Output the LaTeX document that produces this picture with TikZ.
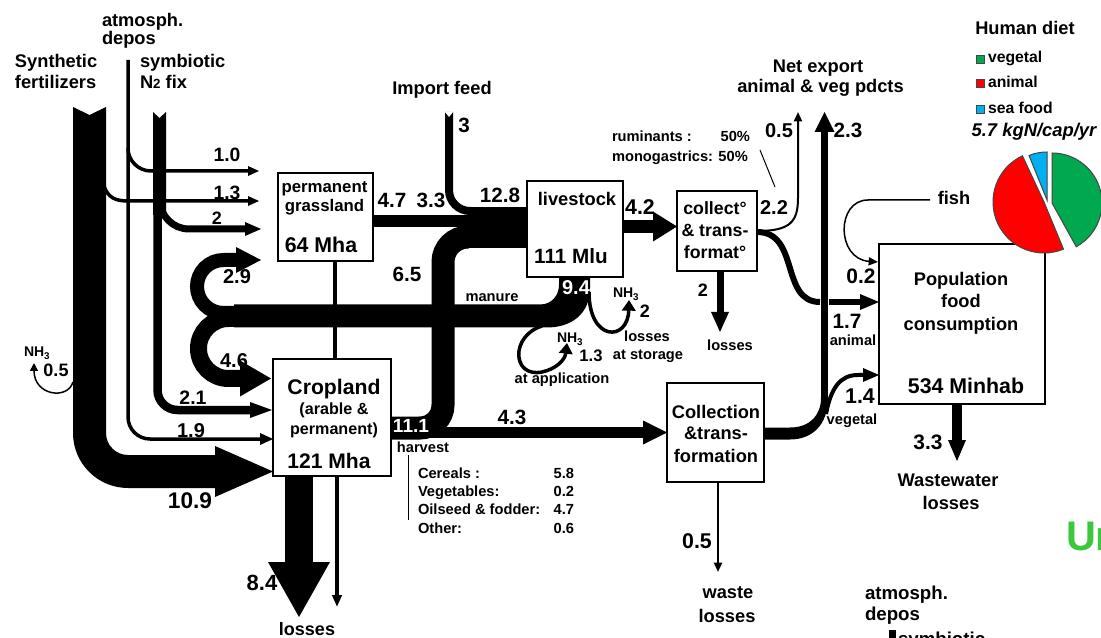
\documentclass[tikz,border=0pt]{standalone}
\usepackage{fontspec}
\setmainfont{Liberation Sans}
\usetikzlibrary{arrows.meta}
\newdimen\pxu
\pxu=0.75pt
\newcommand\fsz[1]{\fontsize{#1}{#1}\selectfont\bfseries}
\newcommand\hR[4]{\fill (#1,{#2-#4}) -- (#3,#2) -- (#1,{#2+#4}) -- cycle;}
\newcommand\hU[4]{\fill ({#1-#4},#2) -- (#1,#3) -- ({#1+#4},#2) -- cycle;}
\newcommand\nhthree{NH\textsubscript{3}}
\definecolor{vegc}{RGB}{0,168,80}
\definecolor{anic}{RGB}{255,0,0}
\definecolor{seac}{RGB}{0,176,240}
\definecolor{ugreen}{RGB}{60,200,60}
\definecolor{pieline}{RGB}{70,70,70}
\begin{document}
\begin{tikzpicture}[x=0.75pt,y=-0.75pt,
  every node/.style={inner sep=0pt,outer sep=0pt},
  txT/.style={anchor=base,font=\fsz{13.7}},
  txN/.style={anchor=base,font=\fsz{15.5}},
  txS/.style={anchor=base,font=\fsz{11}},
  box/.style={draw,line width=2\pxu,fill=white},
  fl/.style={draw,line width=#1\pxu,line cap=butt},
  tar/.style={draw,line width=#1\pxu,-{Triangle[length=7pt,width=6pt]}},
]
\useasboundingbox (0,0) rectangle (1101,638);
\clip (0,0) rectangle (1101,638);
\fill[white] (0,0) rectangle (1101,638);

% ---------- inputs on the left ----------
% synthetic fertilizers
\fill (73,107) -- (89.5,115) -- (106,107) -- (106,433)
  arc[start angle=180,end angle=90,radius=22] -- (215,455) -- (215,446)
  -- (273,471.5) -- (215,497) -- (215,488) -- (128,488)
  arc[start angle=90,end angle=180,radius=55] -- cycle;
\draw[line width=1.5\pxu,-{Triangle[length=6pt,width=6pt]}] (73,382) .. controls (68,400) and (34,396) .. (34,363);
% 1.3 from fertilizers to grassland
\draw[fl=3.5] (104,186) .. controls (108,198) and (116,201) .. (128,201) -- (249,201);
\hR{248}{201}{259}{5}
% atmospheric deposition
\draw[fl=3.5] (128,60) -- (128,417) arc[start angle=180,end angle=90,radius=22] -- (261,439);
\hR{260}{439}{273}{6}
\draw[fl=3.5] (128,148) arc[start angle=180,end angle=90,radius=23] -- (249,171);
\hR{248}{171}{259}{5}
% symbiotic fixation
\fill (153,112) -- (159.5,118) -- (166,112) -- (166,215) -- (153,215) -- cycle;
\draw[fl=8.5] (157.5,214) -- (157.5,390) arc[start angle=180,end angle=90,radius=20] -- (251,410);
\hR{250}{410}{272}{8}
\draw[fl=7] (160,200) arc[start angle=180,end angle=90,radius=29] -- (246,229);
\hR{245}{229}{261}{7}

% ---------- feed to livestock ----------
\draw[fl=8] (449,112) -- (449,190) arc[start angle=180,end angle=90,radius=21] -- (471,211);
\fill[white] (444.5,111.5) -- (449,117) -- (453.5,111.5) -- cycle;
\draw[fl=12] (373,221) -- (468,221);
\fill (467,207) rectangle (527,248);
\draw[fl=23] (391,428) -- (420,428) arc[start angle=90,end angle=0,radius=23]
  -- (443,262) arc[start angle=180,end angle=270,radius=25] -- (469,237);
% harvest 4.3
\draw[fl=11] (391,432.5) -- (644,432.5);
\hR{643}{432.5}{667}{12}

% ---------- manure ----------
\fill (559,276) -- (590,276) -- (590,288) .. controls (590,315) and (570,327.5) .. (547,327.5)
  -- (234,327.5) -- (234,304.5) -- (540,304.5) .. controls (552,304.5) and (559,295) .. (559,285) -- cycle;
\draw[fl=14] (240,313) -- (223.5,313) arc[start angle=90,end angle=270,radius=26.5] -- (237,260);
\hR{236}{260}{261}{13}
\draw[fl=17] (240,318.5) -- (228.5,318.5) arc[start angle=270,end angle=90,radius=30] -- (241,378.5);
\hR{240}{378.5}{271}{18}
\draw[line width=3.5\pxu,-{Triangle[length=8pt,width=10pt]}] (589,292) .. controls (589,342) and (628,342) .. (629,300);
\draw[line width=3.5\pxu,-{Triangle[length=8pt,width=10pt]}] (542,326) .. controls (510,336) and (512,378) .. (542,372) .. controls (556,369) and (565,360) .. (567,343);

% ---------- animal products ----------
\draw[fl=13] (623,226.5) -- (654,226.5);
\hR{653}{226.5}{677}{15}
\draw[fl=7] (720,271) -- (720,313);
\hU{720}{312}{332}{9}
\draw[tar=2] (757,231) .. controls (790,231) and (798,222) .. (798,198) -- (798,112);
\draw[fl=7] (824.5,400) -- (824.5,131);
\hU{824.5}{132}{112}{10}
\draw[fl=6] (757,232) .. controls (800,232) and (780,302) .. (820,302);
\draw[fl=6] (829,302) -- (861,302);
\hR{860}{302}{879}{8}

% ---------- vegetal products ----------
\fill (764,427.5) -- (790,427.5) .. controls (810,427.5) and (821,415) .. (821,398)
  -- (828,398) .. controls (828,425) and (812,439.5) .. (790,439.5) -- (764,439.5) -- cycle;
\draw[fl=4] (826,414) .. controls (831,388) and (840,375) .. (858,375) -- (864,375);
\hR{863}{375}{879}{7}
\draw[line width=1.5\pxu,-{Triangle[length=7pt,width=6pt]}] (930,200) -- (868,200) .. controls (836,200) and (836,259) .. (878,262);
\draw[fl=10] (957,404) -- (957,441);
\hU{957}{440}{461}{9}
\draw[tar=2] (718,482) -- (718,572);

% ---------- cropland losses ----------
\draw[fl=4.5] (335,261) -- (335,359);
\draw[line width=3.5\pxu,-{Triangle[length=9pt,width=7pt]}] (337,476) -- (337,607);
\draw[fl=28] (299,476) -- (299,563);
\hU{299}{562}{617}{31}
\draw[line width=1\pxu] (408,455) -- (408,520);
\draw[line width=1\pxu] (760,150) -- (775,187);
\fill (889,630) rectangle (896,640);

% ---------- boxes ----------
\node[box,minimum width=95\pxu,minimum height=88\pxu] (grass) at (325.5,217) {};
\node[box,minimum width=96\pxu,minimum height=96\pxu] (live) at (575,229) {};
\node[box,minimum width=80\pxu,minimum height=80\pxu] (coll) at (717,231) {};
\node[box,minimum width=118\pxu,minimum height=117\pxu] (crop) at (332,417.5) {};
\node[box,minimum width=97\pxu,minimum height=99\pxu] (ctr) at (715.5,432.5) {};
\node[box,minimum width=166\pxu,minimum height=160\pxu] (pop) at (962,324) {};

% box texts
\node[txT,font=\fsz{12.6}] (g1) at (324.5,193) {permanent};
\node[txT,font=\fsz{12.6}] (g2) at (324.5,212) {grassland};
\node[txN,font=\fsz{16}] (g3) at (321,253) {64 Mha};
\node[txT] (v1) at (577,206) {livestock};
\node[txN] (v2) at (571,264) {111 Mlu};
\node[txT,font=\fsz{13.3}] (c1) at (715,215) {collect°};
\node[txT,font=\fsz{13.3}] (c2) at (715,237) {\& trans-};
\node[txT,font=\fsz{13.3}] (c3) at (715,259) {format°};
\node[txN,font=\fsz{15.9}] (k1) at (334,394) {Cropland};
\node[txT,font=\fsz{12.1}] (k2) at (334,414) {(arable \&};
\node[txT,font=\fsz{12.1}] (k3) at (334,434) {permanent)};
\node[txN,font=\fsz{15.8}] (k4) at (329,468) {121 Mha};
\node[txT] (t1) at (716,418) {Collection};
\node[txT] (t2) at (716,440) {\&trans-};
\node[txT] (t3) at (716,462) {formation};
\node[txT] (p1) at (961,286) {Population};
\node[txT] (p2) at (961,308) {food};
\node[txT] (p3) at (961,330) {consumption};
\node[txN,font=\fsz{16}] (p4) at (966,393) {534 Minhab};

% ---------- labels ----------
\node[txT,anchor=base west] (a1) at (102,27) {atmosph.};
\node[txT,anchor=base west] (a2) at (102,45) {depos};
\node[txT,anchor=base west] (s1) at (15,68) {Synthetic};
\node[txT,anchor=base west] (s2) at (15,89) {fertilizers};
\node[txT,anchor=base west] (b1) at (140,68) {symbiotic};
\node[txT,anchor=base west] (b2) at (140,89) {N{\fsz{10}2} fix};
\node[txT] (i1) at (442,95) {Import feed};
\node[txN] (n3) at (464,133) {3};
\node[txN] (n47) at (392,208) {4.7};
\node[txN] (n33) at (431,208) {3.3};
\node[txN] (n128) at (500,203) {12.8};
\node[txN,font=\fsz{14.5}] (n10) at (227,162) {1.0};
\node[txN,font=\fsz{14.5}] (n13) at (227,200) {1.3};
\node[txN,font=\fsz{13.5}] (n2) at (217,225) {2};
\node[txN,font=\fsz{15}] (n29) at (237,284) {2.9};
\node[txN,font=\fsz{15}] (n46) at (234,368) {4.6};
\node[txN,font=\fsz{14.6}] (n21) at (193,405) {2.1};
\node[txN,font=\fsz{15}] (n19) at (191,437) {1.9};
\node[txS,font=\fsz{10.5},anchor=base west] (nh1) at (24,357) {\nhthree};
\node[txN,font=\fsz{13.5}] (n05a) at (56,377) {0.5};
\node[txN,font=\fsz{17}] (n109) at (190,508) {10.9};
\node[txN,font=\fsz{14.3},text=white] (n111) at (411,432) {11.1};
\node[txS] (hv) at (423,452) {harvest};
\node[txN] (n43) at (512,425) {4.3};
\node[txN] (n65) at (407,282) {6.5};
\node[txS] (mn) at (492,301) {manure};
\node[txN,font=\fsz{15},text=white] (n94) at (576,295) {9.4};
\node[txS,font=\fsz{10.5},anchor=base west] (nh2) at (613,298) {\nhthree};
\node[txN,font=\fsz{13.5}] (n2b) at (645,318) {2};
\node[txS] (ls1) at (647,342) {losses};
\node[txS] (ls2) at (648,359) {at storage};
\node[txS,font=\fsz{10.5},anchor=base west] (nh3) at (557,343) {\nhthree};
\node[txN,font=\fsz{12.5}] (n13b) at (591,362) {1.3};
\node[txS] (ap) at (562,383) {at application};
\node[txN,font=\fsz{16}] (n42) at (640,215) {4.2};
\node[txN,font=\fsz{13.5}] (n2c) at (703,297) {2};
\node[txS] (ls3) at (730,350) {losses};
\node[txN,font=\fsz{15}] (n22) at (774,215) {2.2};
\node[txN,font=\fsz{15}] (n05b) at (779,138) {0.5};
\node[txN] (n23) at (848,138) {2.3};
\node[txT] (e1) at (818,73) {Net export};
\node[txT] (e2) at (820.5,93) {animal \& veg pdcts};
\node[txS,anchor=base west] (r1) at (612,142) {ruminants :};
\node[txS,anchor=base east] (r2) at (750,142) {50\%};
\node[txS,anchor=base west] (r3) at (612,162) {monogastrics: 50\%};
\node[txT] (fi) at (954,205) {fish};
\node[txN,font=\fsz{15.7}] (n02) at (861,284) {0.2};
\node[txN,font=\fsz{15.6}] (n17) at (847,329) {1.7};
\node[txS] (an) at (853,345) {animal};
\node[txN,font=\fsz{16}] (n14) at (860,403) {1.4};
\node[txS] (vg) at (852,424) {vegetal};
\node[txN,font=\fsz{15.7}] (n33b) at (928,449) {3.3};
\node[txT] (w1) at (948,486) {Wastewater};
\node[txT] (w2) at (951,509) {losses};
\node[txS,anchor=base west] (h1) at (418,478) {Cereals :};
\node[txS,anchor=base west] (h2) at (418,496) {Vegetables:};
\node[txS,anchor=base west] (h3) at (418,514) {Oilseed \& fodder:};
\node[txS,anchor=base west] (h4) at (418,533) {Other:};
\node[txS,anchor=base east] (h5) at (574,478) {5.8};
\node[txS,anchor=base east] (h6) at (574,496) {0.2};
\node[txS,anchor=base east] (h7) at (574,514) {4.7};
\node[txS,anchor=base east] (h8) at (574,533) {0.6};
\node[txN,font=\fsz{16.5}] (n84) at (262,590) {8.4};
\node[txT,font=\fsz{13.5}] (ls4) at (307,635) {losses};
\node[txN,font=\fsz{16}] (n05c) at (697,548) {0.5};
\node[txT] (ws1) at (728,598) {waste};
\node[txT] (ws2) at (727,622) {losses};
\node[txT,font=\fsz{14},anchor=base west] (a3) at (865,599) {atmosph.};
\node[txT,font=\fsz{14},anchor=base west] (a4) at (865,620) {depos};
\node[txT,font=\fsz{14},anchor=base west] (b3) at (898,645) {symbiotic};
\node[anchor=base west,font=\fsz{31},text=ugreen] (ur) at (1066,550) {Ur};

% ---------- human diet ----------
\node[txT] (hd) at (1025,35) {Human diet};
\filldraw[fill=vegc,draw=pieline,line width=0.8\pxu] (976,55) rectangle (984,63);
\filldraw[fill=anic,draw=pieline,line width=0.8\pxu] (976,79) rectangle (984,87);
\filldraw[fill=seac,draw=pieline,line width=0.8\pxu] (976,105) rectangle (984,113);
\node[txS,font=\fsz{11.8},anchor=base west] (lg1) at (988,63) {vegetal};
\node[txS,font=\fsz{11.8},anchor=base west] (lg2) at (988,88) {animal};
\node[txS,font=\fsz{11.8},anchor=base west] (lg3) at (988,114) {sea food};
\node[txT,font=\fsz{13.8}\itshape] (kg) at (1034,137) {5.7 kgN/cap/yr};
\filldraw[fill=vegc,draw=pieline,line width=1\pxu] (1052,203) -- ++(61:50) arc[start angle=61,end angle=-90,radius=50] -- cycle;
\filldraw[fill=anic,draw=pieline,line width=1\pxu] (1044,202) -- ++(-115:51) arc[start angle=-115,end angle=-292.5,radius=51] -- cycle;
\filldraw[fill=seac,draw=pieline,line width=1\pxu] (1047,200) -- ++(-90:48) arc[start angle=-90,end angle=-112,radius=48] -- cycle;
\end{tikzpicture}
\end{document}
